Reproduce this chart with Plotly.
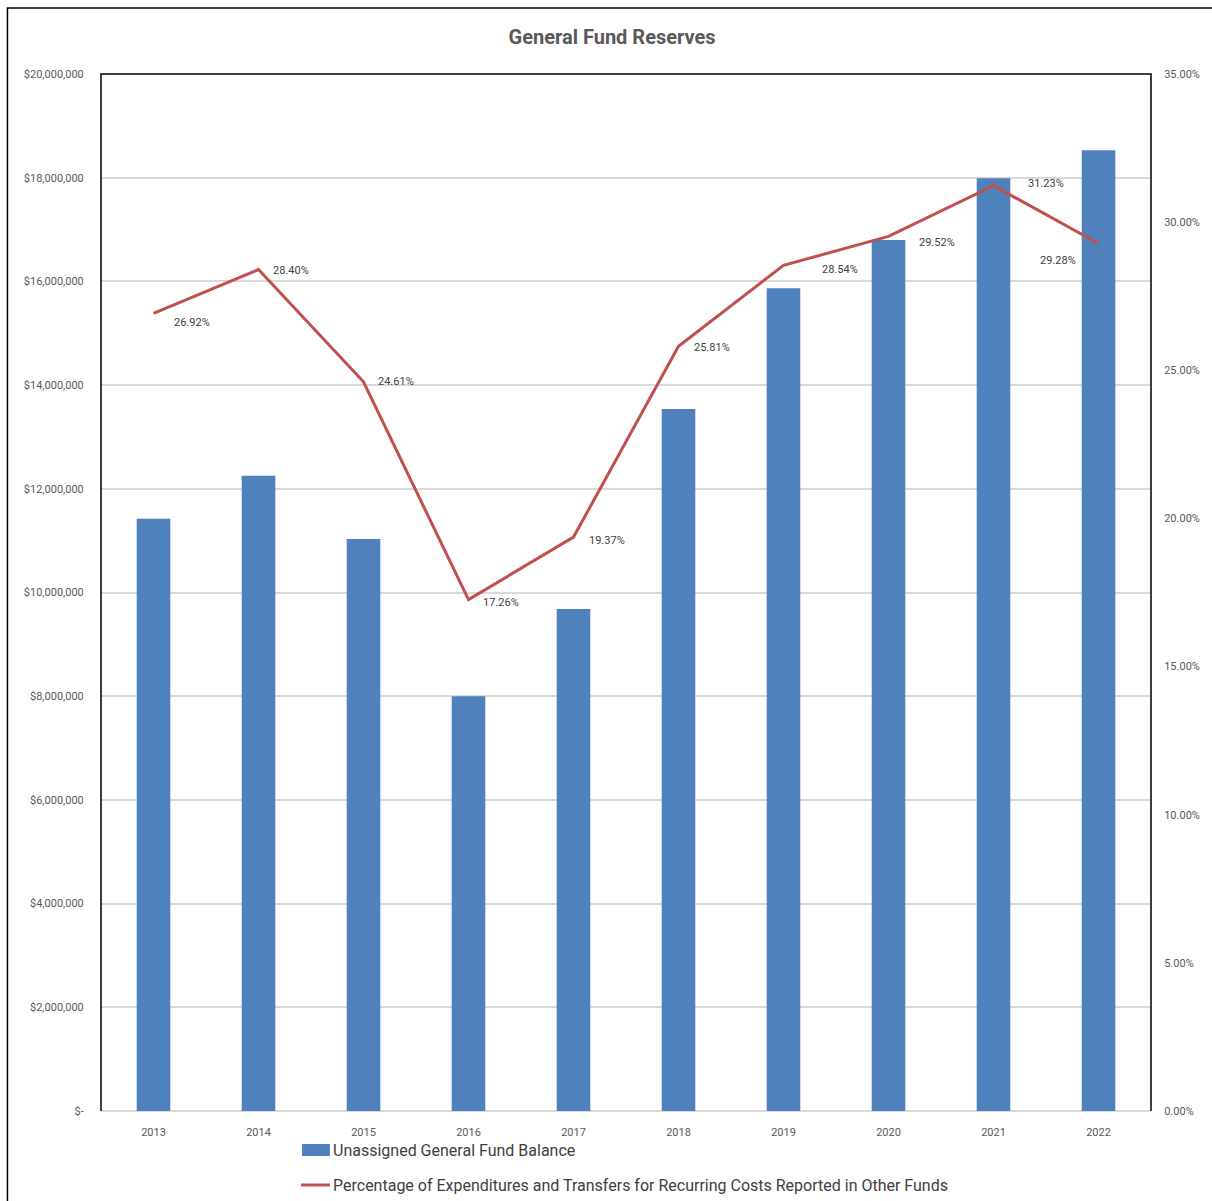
import plotly.graph_objects as go

years = ["2013", "2014", "2015", "2016", "2017", "2018", "2019", "2020", "2021", "2022"]
balance = [11420000, 12250000, 11030000, 8000000, 9680000, 13540000, 15870000, 16800000, 17990000, 18530000]
pct = [26.92, 28.40, 24.61, 17.26, 19.37, 25.81, 28.54, 29.52, 31.23, 29.28]
left_ticks = [0, 2000000, 4000000, 6000000, 8000000, 10000000, 12000000, 14000000, 16000000, 18000000, 20000000]
left_labels = ["$-", "$2,000,000", "$4,000,000", "$6,000,000", "$8,000,000", "$10,000,000",
               "$12,000,000", "$14,000,000", "$16,000,000", "$18,000,000", "$20,000,000"]
right_ticks = [0, 5, 10, 15, 20, 25, 30, 35]
right_labels = ["0.00%", "5.00%", "10.00%", "15.00%", "20.00%", "25.00%", "30.00%", "35.00%"]
bar_name = "Unassigned General Fund Balance"
line_name = "Percentage of Expenditures and Transfers for Recurring Costs Reported in Other Funds"

# label placement offsets (pixels) for the data labels
lab_dx = [18, 12, 12, 12, 13, 13, 36, 28, 32, -21]
lab_dy = [-9, -1, 0, -3, -3, -1, -4, -6, 2, -17]
lab_anchor = ["left"] * 9 + ["right"]

FONT = "Liberation Sans Narrow, Arial Narrow, Roboto, sans-serif"
GREY = "#595959"
BLUE = "#4f81bd"
RED = "#c0504d"

fig = go.Figure()
fig.add_trace(go.Bar(
    x=years, y=balance, name=bar_name,
    marker=dict(color=BLUE, line=dict(width=0)), width=0.32, yaxis="y"))
fig.add_trace(go.Scatter(
    x=years, y=pct, name=line_name,
    mode="lines", line=dict(color=RED, width=3), yaxis="y2"))

# data labels: category axis positions are the category indices
for i, v in enumerate(pct):
    fig.add_annotation(x=i, y=v, xref="x", yref="y2", text=f"{v:.2f}%", showarrow=False,
                       xanchor=lab_anchor[i], yanchor="middle", xshift=lab_dx[i], yshift=lab_dy[i],
                       font=dict(family=FONT, size=11, color="#404040"))

# plot frame (left, top, right) and outer border
fig.add_shape(type="path", path="M 0,0 L 0,1 L 1,1 L 1,0", xref="paper", yref="paper",
              line=dict(color="black", width=1.5))
fig.add_shape(type="path", path="M -0.0891,-0.2 L -0.0891,1.0637 L 1.2,1.0637", xref="paper", yref="paper",
              line=dict(color="black", width=1.5))

# manual legend (paper coords: x=(px-101)/1055, y=(1111-py)/1037)
def px(xp):
    return (xp - 101) / 1055

def py(yp):
    return (1111 - yp) / 1037

fig.add_shape(type="rect", xref="paper", yref="paper", x0=px(303), x1=px(331), y0=py(1156), y1=py(1144),
              fillcolor=BLUE, line=dict(width=0))
fig.add_shape(type="line", xref="paper", yref="paper", x0=px(302), x1=px(331), y0=py(1185), y1=py(1185),
              line=dict(color=RED, width=3))
fig.add_annotation(xref="paper", yref="paper", x=px(332), y=py(1150), text=bar_name, showarrow=False,
                   xanchor="left", yanchor="middle", font=dict(family=FONT, size=16, color="#404040"))
fig.add_annotation(xref="paper", yref="paper", x=px(332), y=py(1185), text=line_name, showarrow=False,
                   xanchor="left", yanchor="middle", font=dict(family=FONT, size=16, color="#404040"))

fig.update_layout(
    width=1212, height=1201,
    margin=dict(l=101, r=56, t=74, b=90),
    paper_bgcolor="white", plot_bgcolor="white",
    showlegend=False,
    title=dict(text="<b>General Fund Reserves</b>", x=0.505, xanchor="center", y=1 - 37 / 1201, yanchor="middle",
               font=dict(family=FONT, size=20, color=GREY)),
    xaxis=dict(type="category", range=[-0.5, 9.5], showgrid=False, showline=False,
               ticks="outside", ticklen=11, tickcolor="rgba(0,0,0,0)",
               tickfont=dict(family=FONT, size=11, color=GREY)),
    yaxis=dict(range=[0, 20000000], tickvals=left_ticks, ticktext=left_labels, showgrid=True,
               gridcolor="#d9d9d9", gridwidth=1.5, zeroline=True, zerolinecolor="#d9d9d9", zerolinewidth=1.5,
               showline=False, ticks="outside", ticklen=14, tickcolor="rgba(0,0,0,0)",
               tickfont=dict(family=FONT, size=11, color=GREY)),
    yaxis2=dict(range=[0, 35], tickvals=right_ticks, ticktext=right_labels, overlaying="y", side="right",
                anchor="x", showgrid=False, zeroline=False, showline=False,
                ticks="outside", ticklen=10, tickcolor="rgba(0,0,0,0)",
                tickfont=dict(family=FONT, size=11, color=GREY)),
)

fig.write_html("out.html")
